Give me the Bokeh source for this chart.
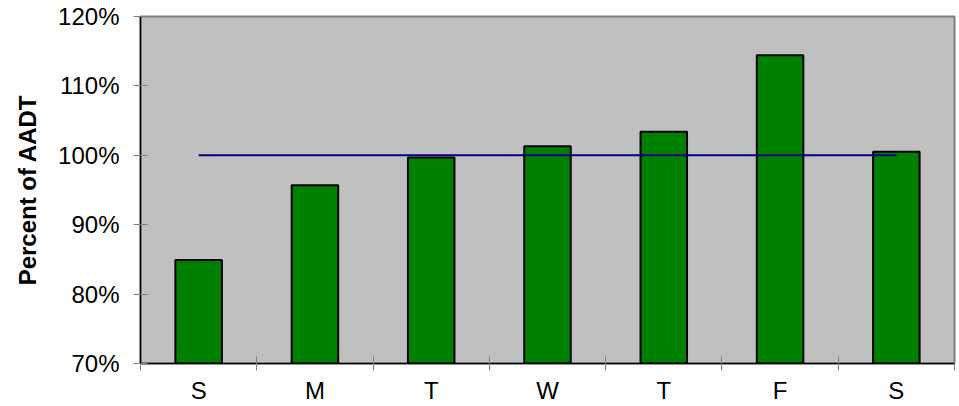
from bokeh.plotting import figure
from bokeh.models import FixedTicker, NumeralTickFormatter, Range1d, ColumnDataSource
from bokeh.embed import file_html
from bokeh.resources import INLINE

# ---- data ----
days = ["S", "M", "T", "W", "T", "F", "S"]
pct_aadt = [84.9, 95.7, 99.7, 101.3, 103.4, 114.4, 100.5]
baseline = [100, 100, 100, 100, 100, 100, 100]
y_ticks = [70, 80, 90, 100, 110, 120]

FONT = "Liberation Sans"

x = list(range(len(days)))
src = ColumnDataSource(dict(
    x=x,
    top=[v / 100 for v in pct_aadt],
    base=[v / 100 for v in baseline],
))

p = figure(width=959, height=406, output_backend="svg", toolbar_location=None,
           x_range=Range1d(-0.5, len(days) - 0.5),
           y_range=Range1d(y_ticks[0] / 100, y_ticks[-1] / 100),
           min_border_left=140, min_border_right=5, min_border_top=16,
           min_border_bottom=42)

p.background_fill_color = "#C0C0C0"
p.border_fill_color = "white"
p.outline_line_color = "#808080"
p.outline_line_width = 2
p.grid.visible = False

p.vbar(x="x", top="top", bottom=y_ticks[0] / 100, width=0.4,
       fill_color="#008000", line_color="black", line_width=2, source=src)
p.line(x="x", y="base", line_color="#000080", line_width=2, source=src)

# x axis
xa = p.xaxis[0]
xa.ticker = FixedTicker(ticks=x, minor_ticks=[i - 0.5 for i in range(len(days) + 1)])
xa.major_label_overrides = {i: d for i, d in enumerate(days)}
xa.major_tick_line_color = None
xa.major_tick_in = 0
xa.major_tick_out = 0
xa.minor_tick_in = 7
xa.minor_tick_out = 7
xa.minor_tick_line_color = "#808080"
xa.axis_line_color = "black"
xa.axis_line_width = 1.5
xa.major_label_standoff = 6
xa.major_label_text_font = FONT
xa.major_label_text_font_size = "24px"
xa.major_label_text_color = "black"

# y axis
ya = p.yaxis[0]
ya.ticker = FixedTicker(ticks=[t / 100 for t in y_ticks])
ya.formatter = NumeralTickFormatter(format="0%")
ya.major_tick_in = 7
ya.major_tick_out = 7
ya.minor_tick_line_color = None
ya.major_tick_line_color = "#808080"
ya.axis_line_color = "black"
ya.axis_line_width = 1.5
ya.major_label_standoff = 14
ya.major_label_text_font = FONT
ya.major_label_text_font_size = "24px"
ya.major_label_text_color = "black"
ya.axis_label = "Percent of AADT"
ya.axis_label_text_font = FONT
ya.axis_label_text_font_size = "24px"
ya.axis_label_text_font_style = "bold"
ya.axis_label_text_color = "black"
ya.axis_label_standoff = 14

open("out.html", "w").write(file_html(p, INLINE))
